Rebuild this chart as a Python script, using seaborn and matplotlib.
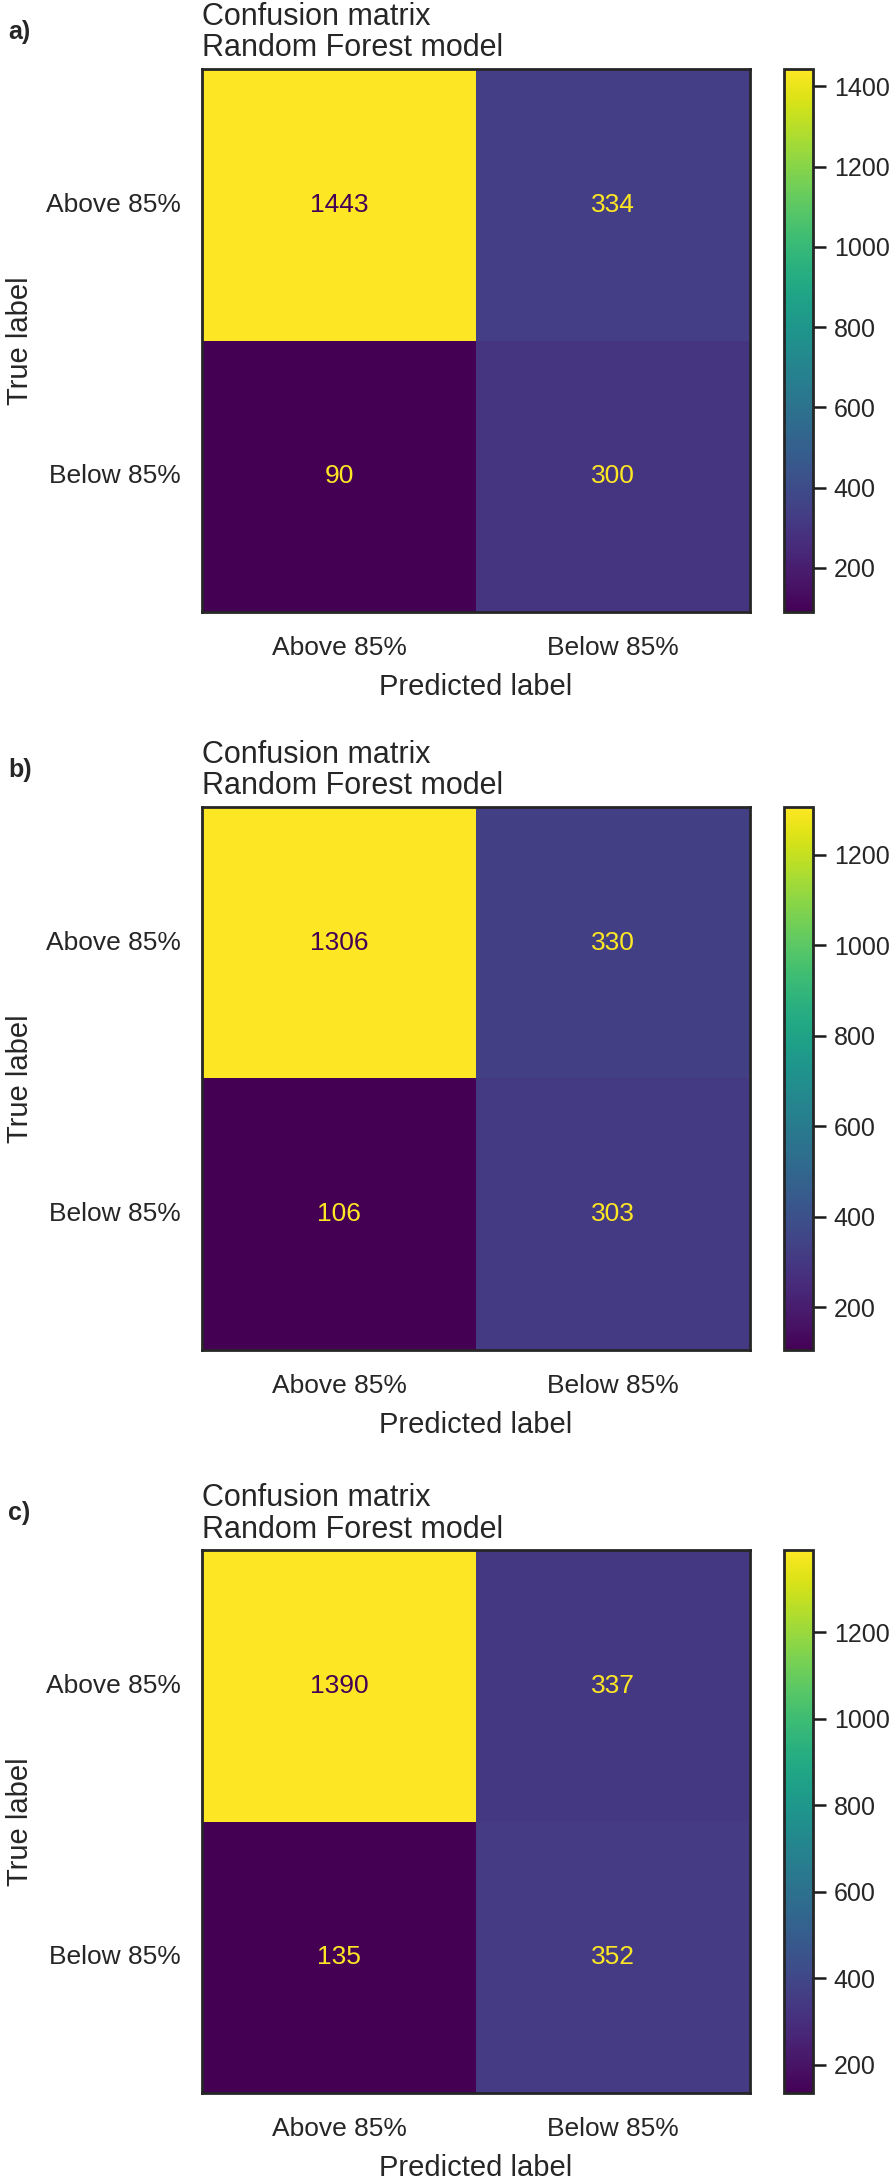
import matplotlib
matplotlib.use('Agg')
import matplotlib.pyplot as plt
import seaborn as sns
import pandas as pd
import numpy as np

# %%
class_labels = ['Above 85%', 'Below 85%']
panel_tags = ['a)', 'b)', 'c)']
cm_a = [[1443, 334], [90, 300]]
cm_b = [[1306, 330], [106, 303]]
cm_c = [[1390, 337], [135, 352]]
cbar_ticks_a = [200, 400, 600, 800, 1000, 1200, 1400]
cbar_ticks_b = [200, 400, 600, 800, 1000, 1200]
cbar_ticks_c = [200, 400, 600, 800, 1000, 1200]

# %%
sns.set_theme(style='ticks')
plt.rcParams['font.family'] = ['Liberation Sans', 'DejaVu Sans']

W, H = 896, 2180
fig = plt.figure(figsize=(W / 100, H / 100), dpi=100)
cmap = plt.get_cmap('viridis')


def px_axes(left, top, width, height):
    return fig.add_axes([left / W, 1 - (top + height) / H, width / W, height / H])


def plot_confusion(tag, cm, ticks, top):
    ax = px_axes(202, top, 548, 543)
    cax = px_axes(784, top, 29, 543)
    df = pd.DataFrame(cm, index=class_labels, columns=class_labels)
    sns.heatmap(df, cmap='viridis', annot=True, fmt='d', ax=ax, cbar_ax=cax,
                annot_kws={'fontsize': 19}, cbar_kws={'ticks': ticks})

    # sklearn-like text colours
    vals = np.array(cm).ravel()
    thresh = (vals.max() + vals.min()) / 2
    for txt, v in zip(ax.texts, vals):
        txt.set_color(cmap(1.0) if v < thresh else cmap(0))

    for s in ax.spines.values():
        s.set_visible(True)
        s.set_color('0.15')
        s.set_linewidth(2)
    ax.tick_params(length=0, labelsize=19)
    ax.tick_params(axis='x', pad=17)
    ax.tick_params(axis='y', pad=15)
    ax.set_yticklabels(class_labels, rotation=0, va='center')
    ax.set_xticklabels(class_labels, rotation=0)
    ax.set_xlabel('Predicted label', fontsize=21)
    ax.set_ylabel('True label', fontsize=21)
    ax.xaxis.set_label_coords(0.5, -0.112)
    ax.yaxis.set_label_coords(-0.307, 0.5)
    ax.set_title('Confusion matrix\nRandom Forest model', loc='left',
                 fontsize=22, pad=9, linespacing=1.05)

    cax.tick_params(labelsize=18, length=9, width=1.8, pad=6, color='0.1')
    cbar = ax.collections[0].colorbar
    cbar.outline.set_visible(True)
    cbar.outline.set_edgecolor('0.15')
    cbar.outline.set_linewidth(2)

    fig.text(8 / W, 1 - 32 / H - (top - 69) / H, tag, fontsize=18,
             fontweight='bold', va='center', ha='left')


plot_confusion(panel_tags[0], cm_a, cbar_ticks_a, 69)
plot_confusion(panel_tags[1], cm_b, cbar_ticks_b, 807)
plot_confusion(panel_tags[2], cm_c, cbar_ticks_c, 1550)

fig.savefig('out.png', dpi=100)
